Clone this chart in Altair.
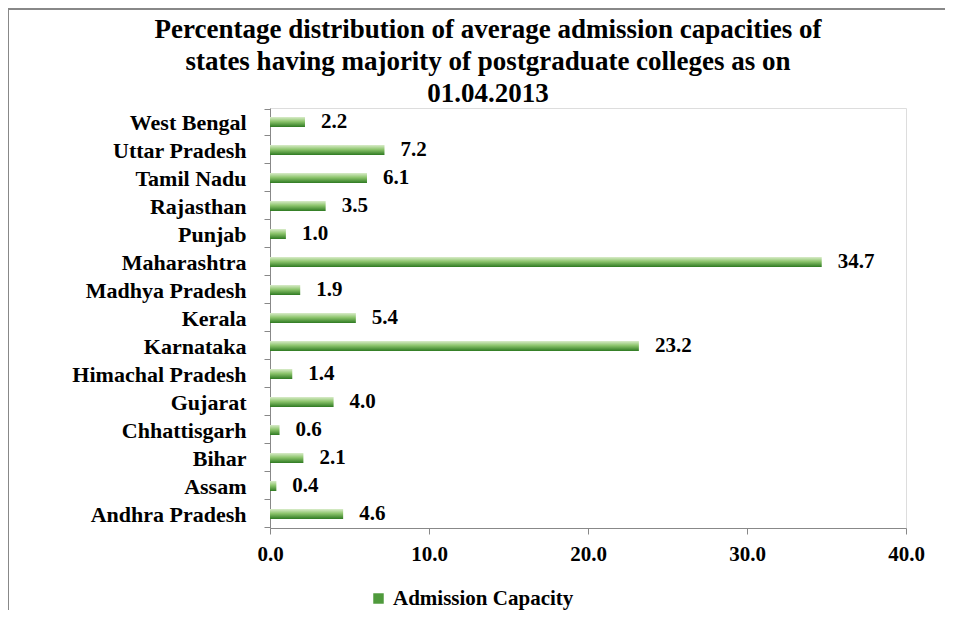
import altair as alt
import pandas as pd

states = ["West Bengal", "Uttar Pradesh", "Tamil Nadu", "Rajasthan", "Punjab",
          "Maharashtra", "Madhya Pradesh", "Kerala", "Karnataka", "Himachal Pradesh",
          "Gujarat", "Chhattisgarh", "Bihar", "Assam", "Andhra Pradesh"]
values = [2.2, 7.2, 6.1, 3.5, 1.0, 34.7, 1.9, 5.4, 23.2, 1.4, 4.0, 0.6, 2.1, 0.4, 4.6]
series_name = "Admission Capacity"
title_lines = ["Percentage distribution of average admission capacities of",
               "states having majority  of postgraduate colleges as on",
               "01.04.2013"]

df = pd.DataFrame({"State": states, "Value": values, "Series": series_name})
df["Label"] = df["Value"].map(lambda v: f"{v:.1f}")

FONT = "Liberation Serif"
grad = {"gradient": "linear", "x1": 0, "y1": 0, "x2": 0, "y2": 1,
        "stops": [{"offset": 0, "color": "#d9ecc9"},
                  {"offset": 0.45, "color": "#8cc46c"},
                  {"offset": 1, "color": "#2e7a22"}]}

y_enc = alt.Y("State:N", sort=states, title=None,
              axis=alt.Axis(labelFont=FONT, labelFontSize=22, labelFontWeight="bold",
                            labelColor="black", tickBand="extent", tickSize=6,
                            tickColor="#888888", domainColor="#888888",
                            labelPadding=18, labelLimit=300))
x_enc = alt.X("Value:Q", title=None,
              scale=alt.Scale(domain=[0, 40], nice=False),
              axis=alt.Axis(values=[0, 10, 20, 30, 40], format=".1f",
                            labelFont=FONT, labelFontSize=21, labelFontWeight="bold",
                            labelColor="black", tickSize=6, tickColor="#888888",
                            domainColor="#888888", grid=False, labelPadding=9,
                            labelFlush=False))

bars = alt.Chart(df).mark_bar(size=10, color=grad).encode(y=y_enc, x=x_enc)

labels = alt.Chart(df).mark_text(align="left", dx=16, font=FONT, fontSize=21,
                                 fontWeight="bold", color="black").encode(
    y=alt.Y("State:N", sort=states), x="Value:Q", text="Label:N")

legend_layer = alt.Chart(df).mark_square(opacity=0).encode(
    y=alt.Y("State:N", sort=states), x="Value:Q",
    color=alt.Color("Series:N", title=None,
                    scale=alt.Scale(range=["#4f9a3c"]),
                    legend=alt.Legend(orient="none", legendX=98, legendY=480,
                                      symbolType="square", symbolSize=110,
                                      symbolOpacity=1, symbolStrokeWidth=0,
                                      labelFont=FONT, labelFontSize=21,
                                      labelFontWeight="bold", labelColor="black",
                                      labelLimit=400)))

one = pd.DataFrame({"a": [0]})
border = alt.Chart(one).mark_rect(fill=None, stroke="#888888", strokeWidth=2).encode(
    x=alt.value(-262), x2=alt.value(1000), y=alt.value(-99), y2=alt.value(900))

title = alt.Chart(one).mark_text(text=title_lines, font=FONT, fontSize=27,
                                 fontWeight="bold", color="black", align="center",
                                 baseline="middle", lineHeight=32).encode(
    x=alt.value(218), y=alt.value(-78))

chart = alt.layer(border, title, bars, labels, legend_layer).properties(
    width=636, height=420,
    autosize=alt.AutoSizeParams(type="none"),
    padding={"left": 262, "top": 100, "right": 39, "bottom": 82},
).configure_view(stroke=None).configure(background="white")

chart.save("out.html", embed_options={"renderer": "svg", "actions": False})
